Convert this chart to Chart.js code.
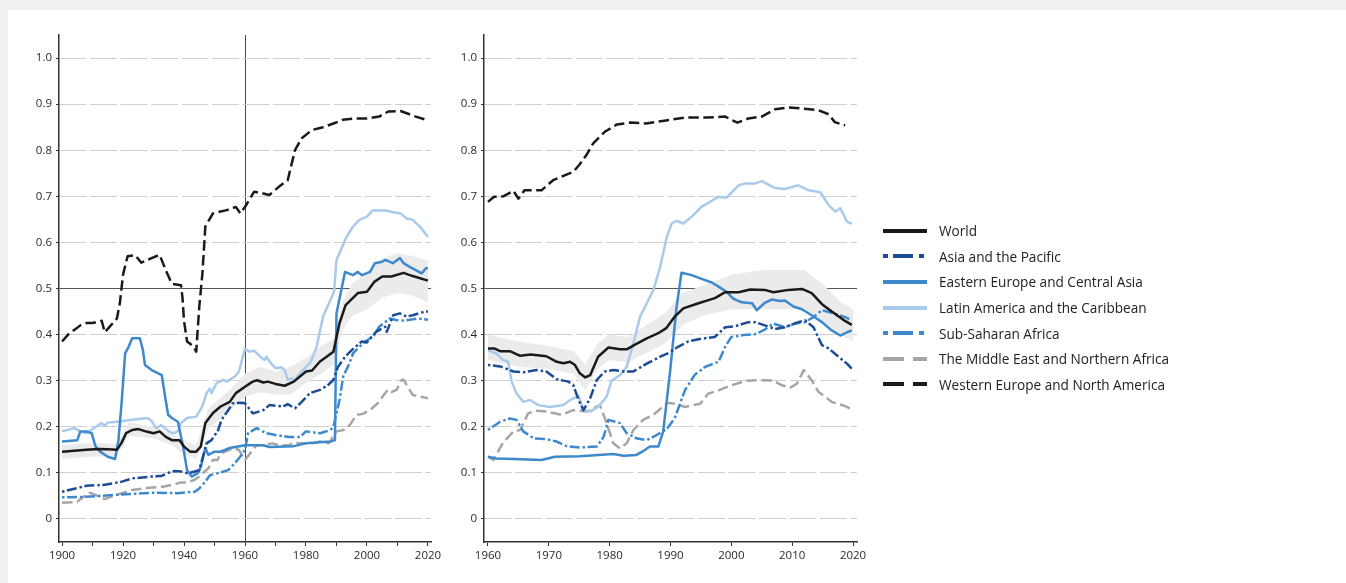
<!DOCTYPE html>
<html>
<head>
<meta charset="utf-8">
<script src="https://cdn.jsdelivr.net/npm/chart.js@4.4.1/dist/chart.umd.min.js"></script>
<style>
  body { margin: 0; background: #f0f0f0; width: 1346px; height: 583px; overflow: hidden; font-family: 'Open Sans', sans-serif; }
  #panel { position: absolute; left: 8px; top: 10px; right: 0; bottom: 0; background: #fff; }
  .box { position: absolute; top: 0; height: 583px; }
  #leftBox { left: 0; width: 445px; }
  #rightBox { left: 445px; width: 430px; }
  #legend { position: absolute; left: 883px; top: 218px; }
  .item { display: flex; align-items: center; height: 25.6px; font-size: 13.6px; color: #222; white-space: nowrap; }
  .item canvas { margin-right: 12px; }
</style>
</head>
<body>
<div id="panel"></div>
<div class="box" id="leftBox"><canvas id="leftCanvas"></canvas></div>
<div class="box" id="rightBox"><canvas id="rightCanvas"></canvas></div>
<div id="legend"></div>
<script>
const seriesNames = [
  `World`,
  `Asia and the Pacific`,
  `Eastern Europe and Central Asia`,
  `Latin America and the Caribbean`,
  `Sub-Saharan Africa`,
  `The Middle East and Northern Africa`,
  `Western Europe and North America`,
]
const yTicks = [0, 0.1, 0.2, 0.3, 0.4, 0.5, 0.6, 0.7, 0.8, 0.9, 1.0]
const xTicksLeft = [1900, 1910, 1920, 1930, 1940, 1950, 1960, 1970, 1980, 1990, 2000, 2010, 2020]
const xTicksRight = [1960, 1970, 1980, 1990, 2000, 2010, 2020]

// left panel, 1900-2020: [year, value]
const worldL = [[1900,0.146],[1904,0.148],[1908,0.15],[1912,0.152],[1915,0.151],[1918,0.15],[1919.5,0.165],[1921,0.186],[1923,0.193],[1925,0.195],[1928,0.189],[1930,0.186],[1932,0.19],[1934,0.178],[1936,0.171],[1938.5,0.171],[1940,0.157],[1942,0.146],[1944,0.146],[1945.5,0.157],[1947,0.208],[1949.5,0.23],[1952,0.244],[1955,0.254],[1957,0.273],[1960,0.287],[1962.5,0.298],[1964,0.301],[1966,0.296],[1967.5,0.298],[1970,0.293],[1973,0.289],[1976,0.298],[1980,0.32],[1982,0.322],[1984.5,0.341],[1989,0.363],[1991,0.425],[1993,0.464],[1997,0.49],[2000,0.493],[2002.5,0.515],[2005,0.526],[2008,0.526],[2012,0.534],[2015,0.527],[2020,0.517]]
const asiaL = [[1900,0.059],[1905,0.067],[1908,0.072],[1914,0.074],[1919.6,0.081],[1923,0.088],[1929.4,0.092],[1932.5,0.093],[1934.8,0.1],[1937,0.104],[1939,0.103],[1941.3,0.099],[1943.5,0.103],[1945,0.106],[1947.4,0.164],[1949,0.171],[1951.2,0.193],[1952.3,0.215],[1954.5,0.236],[1956,0.251],[1959,0.252],[1960,0.251],[1962.6,0.229],[1966,0.236],[1968,0.247],[1972.5,0.244],[1974,0.249],[1976.4,0.24],[1978.6,0.254],[1981.3,0.273],[1984.6,0.28],[1987.3,0.291],[1989,0.302],[1990.5,0.33],[1992.8,0.352],[1995.6,0.37],[1998.3,0.385],[2000,0.383],[2001.5,0.395],[2003,0.406],[2006,0.417],[2006.5,0.406],[2008.6,0.442],[2010.8,0.446],[2013,0.439],[2015,0.442],[2019,0.45],[2020,0.45]]
const eecaL = [[1900,0.168],[1905,0.171],[1906,0.19],[1908,0.19],[1909.7,0.186],[1911,0.157],[1912.5,0.146],[1915,0.135],[1917.4,0.13],[1918.5,0.171],[1919.6,0.258],[1920.7,0.36],[1921.6,0.37],[1923,0.392],[1925.5,0.392],[1926.5,0.367],[1927.2,0.334],[1929.4,0.323],[1932.7,0.312],[1933.8,0.265],[1934.8,0.226],[1936,0.219],[1938,0.211],[1939.7,0.157],[1941,0.106],[1942.5,0.092],[1944.6,0.1],[1945.5,0.113],[1947,0.154],[1948,0.139],[1950,0.146],[1952,0.146],[1955,0.154],[1960,0.16],[1966,0.16],[1968,0.156],[1976,0.158],[1980,0.164],[1988,0.168],[1989.5,0.171],[1990,0.446],[1992.8,0.536],[1995.4,0.529],[1997,0.536],[1998.4,0.529],[2001,0.536],[2002.6,0.555],[2005,0.558],[2006,0.562],[2008.5,0.555],[2010.8,0.566],[2012,0.555],[2014,0.547],[2018,0.533],[2019.3,0.544],[2020,0.544]]
const latamL = [[1900,0.19],[1904,0.197],[1906,0.19],[1908,0.186],[1912,0.204],[1913,0.208],[1914,0.202],[1915,0.209],[1918,0.211],[1923,0.215],[1928,0.219],[1929,0.215],[1931,0.197],[1932.5,0.204],[1935,0.19],[1936.5,0.186],[1938,0.19],[1939,0.208],[1941,0.219],[1944,0.222],[1946,0.244],[1947.4,0.273],[1948.5,0.283],[1949,0.273],[1950.7,0.295],[1953,0.302],[1954,0.298],[1956.7,0.309],[1958,0.32],[1960,0.369],[1961.5,0.363],[1963,0.365],[1965,0.352],[1966.5,0.345],[1967,0.352],[1968.5,0.338],[1970,0.327],[1972,0.329],[1973,0.323],[1974,0.302],[1975.4,0.305],[1976,0.298],[1978,0.316],[1981.6,0.341],[1983.5,0.374],[1985.6,0.439],[1988,0.475],[1989.2,0.493],[1990,0.562],[1991.7,0.588],[1993.3,0.612],[1995.4,0.634],[1997.5,0.649],[2000,0.656],[2002,0.67],[2004,0.669],[2006.5,0.669],[2009,0.665],[2011,0.663],[2013,0.652],[2015,0.649],[2017.4,0.634],[2020,0.612]]
const ssaL = [[1900,0.047],[1908,0.048],[1917,0.052],[1930.5,0.057],[1938,0.056],[1943.5,0.059],[1945,0.066],[1947,0.081],[1948.5,0.095],[1951,0.099],[1954.5,0.106],[1956.7,0.121],[1958.4,0.135],[1960,0.15],[1961,0.186],[1963.8,0.197],[1967,0.186],[1970,0.182],[1974.5,0.178],[1978,0.178],[1980,0.19],[1984.6,0.186],[1988,0.193],[1989,0.2],[1991,0.258],[1992.2,0.309],[1994,0.334],[1995.5,0.36],[1999.3,0.385],[2002,0.395],[2004,0.417],[2007.5,0.435],[2010.8,0.43],[2014,0.432],[2017,0.435],[2020,0.432]]
const menaL = [[1900,0.035],[1905,0.037],[1906,0.043],[1909,0.057],[1911,0.052],[1914,0.043],[1916,0.048],[1919.6,0.056],[1923,0.063],[1927.5,0.067],[1933,0.07],[1936,0.074],[1939,0.079],[1941,0.079],[1943.5,0.085],[1945,0.092],[1948,0.11],[1949.5,0.128],[1951,0.128],[1952,0.142],[1956,0.153],[1958,0.15],[1960,0.128],[1963.8,0.16],[1966,0.16],[1969,0.164],[1971.5,0.16],[1974.5,0.16],[1976,0.166],[1978,0.164],[1982,0.164],[1984.6,0.168],[1987.5,0.164],[1990,0.19],[1992.3,0.193],[1994.4,0.204],[1996.6,0.226],[1998.6,0.228],[2001,0.236],[2003.5,0.251],[2006.8,0.28],[2008,0.275],[2009.7,0.28],[2011.4,0.302],[2012,0.302],[2014,0.28],[2015,0.269],[2020,0.262]]
const wenaL = [[1900,0.385],[1902,0.4],[1904,0.41],[1906,0.42],[1908,0.425],[1910,0.425],[1913,0.43],[1914,0.405],[1916,0.42],[1918,0.435],[1919,0.47],[1920,0.53],[1921.5,0.57],[1924,0.572],[1926,0.556],[1929,0.565],[1932,0.573],[1934,0.54],[1936,0.51],[1939,0.507],[1939.5,0.48],[1940,0.43],[1941,0.385],[1943,0.375],[1944,0.363],[1945,0.46],[1946,0.53],[1947,0.635],[1949.5,0.663],[1954,0.67],[1957,0.677],[1958.5,0.663],[1960,0.677],[1963,0.71],[1966,0.706],[1968,0.703],[1971,0.72],[1974,0.735],[1976.4,0.8],[1978.6,0.826],[1982,0.844],[1985.6,0.85],[1989,0.858],[1992,0.866],[1996,0.869],[2000,0.869],[2004,0.873],[2007,0.884],[2011,0.885],[2016,0.873],[2020,0.865]]
// world uncertainty band: [year, low, high]
const bandL = [[1900,0.13,0.16],[1910,0.135,0.165],[1918,0.137,0.163],[1922,0.18,0.21],[1930,0.175,0.2],[1936,0.16,0.185],[1940,0.14,0.17],[1944,0.13,0.16],[1948,0.195,0.24],[1955,0.235,0.28],[1960,0.265,0.315],[1965,0.275,0.33],[1970,0.27,0.32],[1975,0.27,0.33],[1980,0.295,0.35],[1985,0.315,0.375],[1989,0.335,0.39],[1992,0.41,0.47],[1995,0.44,0.51],[2000,0.455,0.535],[2005,0.48,0.565],[2010,0.49,0.577],[2015,0.485,0.57],[2020,0.47,0.56]]

// right panel, 1960-2020
const worldR = [[1960,0.37],[1961,0.37],[1962,0.364],[1963.6,0.364],[1965.3,0.354],[1967,0.357],[1969.6,0.353],[1971.3,0.341],[1972.4,0.338],[1973.5,0.341],[1974.3,0.334],[1975.1,0.316],[1976,0.307],[1976.8,0.312],[1978.1,0.352],[1979.8,0.372],[1981.7,0.368],[1982.8,0.368],[1984.4,0.38],[1986.1,0.392],[1988,0.403],[1989.3,0.414],[1990.7,0.439],[1992.1,0.457],[1994.6,0.468],[1997.3,0.479],[1999,0.492],[2001.2,0.492],[2003.1,0.498],[2005.5,0.497],[2006.9,0.492],[2009.4,0.497],[2011.6,0.499],[2013.2,0.49],[2014.9,0.466],[2016.5,0.45],[2018.4,0.432],[2019.8,0.421]]
const asiaR = [[1960,0.334],[1962,0.331],[1964.2,0.32],[1965.8,0.318],[1968,0.323],[1969.6,0.32],[1971.3,0.303],[1973.2,0.298],[1974,0.291],[1974.9,0.258],[1975.7,0.236],[1976.8,0.262],[1977.9,0.302],[1979.2,0.32],[1980.6,0.323],[1982.3,0.32],[1983.9,0.32],[1986.1,0.337],[1988.3,0.352],[1989.7,0.36],[1991.3,0.374],[1992.9,0.385],[1994.6,0.39],[1997.3,0.395],[1999,0.416],[2000.6,0.418],[2002.8,0.427],[2003.9,0.427],[2005.5,0.42],[2007.2,0.412],[2008.8,0.416],[2011,0.427],[2012.1,0.431],[2013.5,0.416],[2014.9,0.377],[2016,0.37],[2017.6,0.352],[2019,0.337],[2019.8,0.326]]
const eecaR = [[1960,0.135],[1961.4,0.131],[1964.2,0.13],[1968.8,0.128],[1971,0.135],[1975.1,0.136],[1980.6,0.141],[1982.3,0.137],[1984.4,0.139],[1985.5,0.147],[1986.6,0.157],[1988,0.157],[1988.8,0.19],[1989.9,0.316],[1991,0.46],[1991.8,0.534],[1993.5,0.529],[1995.1,0.521],[1996.8,0.513],[1997.9,0.504],[1999.2,0.493],[2000.3,0.478],[2001.7,0.47],[2003.4,0.468],[2004.2,0.453],[2005.5,0.469],[2006.6,0.476],[2008,0.473],[2008.8,0.474],[2010.2,0.461],[2011.6,0.455],[2013.2,0.442],[2014.9,0.427],[2016.5,0.409],[2017.9,0.398],[2019,0.405],[2019.8,0.409]]
const latamR = [[1960,0.366],[1961.4,0.359],[1962.5,0.345],[1963.3,0.341],[1963.9,0.298],[1964.7,0.272],[1965.8,0.254],[1966.9,0.258],[1968.3,0.247],[1970.2,0.243],[1972.4,0.247],[1973.5,0.258],[1974.9,0.267],[1975.7,0.236],[1976.8,0.233],[1978.1,0.243],[1979.5,0.265],[1980.3,0.3],[1981.7,0.312],[1982.8,0.33],[1983.9,0.381],[1985,0.439],[1986.1,0.468],[1987.2,0.497],[1988.3,0.547],[1989.4,0.612],[1990.2,0.641],[1991,0.647],[1992.1,0.641],[1993.5,0.656],[1995.1,0.677],[1997.9,0.699],[1999.2,0.697],[2001.2,0.724],[2002.3,0.728],[2003.9,0.728],[2005,0.733],[2007.2,0.718],[2008.8,0.716],[2011,0.724],[2012.7,0.713],[2014.6,0.709],[2016,0.681],[2017.1,0.667],[2017.9,0.674],[2019,0.645],[2019.8,0.64]]
const ssaR = [[1960,0.193],[1962,0.211],[1963.6,0.218],[1964.7,0.215],[1965.8,0.19],[1967.5,0.175],[1969.6,0.173],[1971.3,0.168],[1972.9,0.158],[1975.1,0.155],[1977.9,0.157],[1979,0.178],[1979.8,0.215],[1981.7,0.208],[1982.8,0.186],[1984.4,0.175],[1986.1,0.171],[1987.7,0.182],[1989.4,0.195],[1990.7,0.219],[1992.4,0.28],[1994,0.313],[1995.7,0.33],[1997.9,0.341],[1999,0.374],[2000,0.395],[2002,0.399],[2003.9,0.401],[2005.5,0.411],[2006.9,0.424],[2008.8,0.416],[2010.5,0.424],[2012.1,0.427],[2013.5,0.438],[2014.9,0.453],[2017.1,0.445],[2018.7,0.438],[2019.8,0.431]]
const menaR = [[1960,0.135],[1960.9,0.128],[1962.5,0.166],[1964.2,0.19],[1965.3,0.193],[1966.6,0.229],[1968,0.235],[1969.6,0.233],[1972.1,0.226],[1974,0.236],[1976.2,0.233],[1978.4,0.247],[1979.5,0.208],[1980.6,0.164],[1981.7,0.153],[1982.8,0.164],[1983.9,0.193],[1985.5,0.215],[1987.2,0.226],[1989.5,0.252],[1990.7,0.25],[1992.4,0.243],[1994.9,0.25],[1996.2,0.272],[1997.9,0.279],[2000,0.29],[2002.5,0.3],[2005,0.301],[2006.9,0.3],[2008.3,0.29],[2009.7,0.285],[2010.8,0.294],[2011.9,0.323],[2013.2,0.301],[2014.3,0.276],[2016.5,0.254],[2018.7,0.245],[2019.5,0.24]]
const wenaR = [[1960,0.688],[1961,0.699],[1962.5,0.7],[1964.2,0.712],[1965,0.695],[1966,0.713],[1968.8,0.713],[1970.7,0.735],[1972.7,0.746],[1974,0.753],[1975,0.768],[1976.2,0.79],[1977.3,0.815],[1979.2,0.84],[1981.2,0.856],[1983.4,0.86],[1986,0.858],[1989,0.864],[1992.4,0.871],[1996,0.871],[1999,0.873],[2000,0.866],[2001,0.86],[2002.8,0.869],[2005,0.873],[2007.2,0.889],[2009.4,0.893],[2012,0.89],[2014.3,0.887],[2016,0.878],[2017,0.861],[2018.7,0.854]]
const bandR = [[1960,0.345,0.4],[1965,0.33,0.385],[1970,0.325,0.375],[1974,0.315,0.365],[1976,0.28,0.335],[1978,0.325,0.38],[1980,0.345,0.4],[1983,0.34,0.395],[1986,0.36,0.42],[1989,0.38,0.445],[1992,0.42,0.49],[1995,0.44,0.505],[2000,0.455,0.53],[2005,0.455,0.54],[2010,0.455,0.54],[2012,0.455,0.54],[2015,0.43,0.51],[2018,0.4,0.47],[2020,0.385,0.455]]

const lineColors = [`#1a1a1a`, `#1d4c96`, `#3d89cc`, `#a9caeb`, `#3d89cc`, `#a6a6a6`, `#1a1a1a`]
const lineDashes = [[], [2.5, 2.5, 10, 3], [], [], [2.5, 2.5, 10, 3], [10.5, 4.5], [10.5, 4.5]]

Chart.defaults.font.family = `'Open Sans', sans-serif`
Chart.defaults.font.size = 11.5
Chart.defaults.color = `#2a2a2a`

const lineSet = (i, points) => ({
  label: seriesNames[i],
  data: points.map(([x, y]) => ({ x, y })),
  borderColor: lineColors[i],
  borderDash: lineDashes[i],
  borderWidth: 2.5,
  borderJoinStyle: `round`,
  pointRadius: 0,
  tension: 0,
  fill: false,
})

// upper edge fills down to the lower edge
const bandSets = (band) => [
  {
    label: `band-high`,
    data: band.map(([x, , hi]) => ({ x, y: hi })),
    borderColor: `rgba(0,0,0,0)`,
    borderWidth: 0,
    pointRadius: 0,
    backgroundColor: `#ebebeb`,
    fill: `+1`,
  },
  {
    label: `band-low`,
    data: band.map(([x, lo]) => ({ x, y: lo })),
    borderColor: `rgba(0,0,0,0)`,
    borderWidth: 0,
    pointRadius: 0,
    fill: false,
  },
]

function makeChart(canvas, series, band, opts) {
  const datasets = series.map((pts, i) => lineSet(i, pts)).concat(bandSets(band))
  return new Chart(canvas, {
    type: `line`,
    data: { datasets },
    options: {
      responsive: true,
      maintainAspectRatio: false,
      animation: false,
      events: [],
      layout: { padding: opts.padding },
      plugins: { legend: { display: false }, tooltip: { enabled: false } },
      scales: {
        x: {
          type: `linear`,
          min: opts.xMin,
          max: opts.xMax,
          afterBuildTicks: (s) => { s.ticks = opts.xTicks.map((value) => ({ value })) },
          afterFit: (s) => { s.height = 30 },
          ticks: {
            autoSkip: false,
            maxRotation: 0,
            padding: 3,
            callback: (v) => (v % opts.labelEvery === 0 ? String(v) : ``),
          },
          grid: {
            color: (ctx) => (ctx.tick && ctx.tick.value === opts.refYear ? `#4a4a4a` : `rgba(0,0,0,0)`),
            tickColor: `#333`,
            tickLength: 4,
          },
          border: { color: `#333`, width: 1.5 },
        },
        y: {
          min: -0.05,
          max: 1.05,
          afterBuildTicks: (s) => { s.ticks = yTicks.map((value) => ({ value })) },
          afterFit: (s) => { s.width = opts.yWidth },
          ticks: {
            padding: 4,
            callback: (v) => (v === 0 ? `0` : v.toFixed(1)),
          },
          grid: {
            color: (ctx) => (ctx.tick && ctx.tick.value === 0.5 ? `#555` : `#cfcfcf`),
            tickColor: `#333`,
            tickLength: 3,
          },
          border: {
            color: `#333`,
            width: 1.5,
            dash: (ctx) => (ctx.tick && ctx.tick.value === 0.5 ? [] : [27, 3.5]),
          },
        },
      },
    },
  })
}

makeChart(document.querySelector(`#leftCanvas`),
  [worldL, asiaL, eecaL, latamL, ssaL, menaL, wenaL], bandL,
  { xMin: 1899, xMax: 2021, xTicks: xTicksLeft, labelEvery: 20, refYear: 1960, yWidth: 59,
    padding: { top: 35, right: 14, bottom: 11, left: 0 } })

const rightChart = makeChart(document.querySelector(`#rightCanvas`),
  [worldR, asiaR, eecaR, latamR, ssaR, menaR, wenaR], bandR,
  { xMin: 1959.35, xMax: 2020.65, xTicks: xTicksRight, labelEvery: 10, refYear: null, yWidth: 39,
    padding: { top: 35, right: 18, bottom: 11, left: 0 } })

// HTML legend built from the right chart's series
const legendEl = document.querySelector(`#legend`)
rightChart.data.datasets.slice(0, seriesNames.length).forEach((ds) => {
  const row = document.createElement(`div`)
  row.className = `item`
  const sample = document.createElement(`canvas`)
  sample.width = 44
  sample.height = 8
  const g = sample.getContext(`2d`)
  g.strokeStyle = ds.borderColor
  g.lineWidth = 4
  g.setLineDash(ds.borderDash.map((d) => d * 2))
  g.beginPath()
  g.moveTo(0, 4)
  g.lineTo(44, 4)
  g.stroke()
  row.append(sample, ds.label)
  legendEl.append(row)
})
</script>
</body>
</html>
